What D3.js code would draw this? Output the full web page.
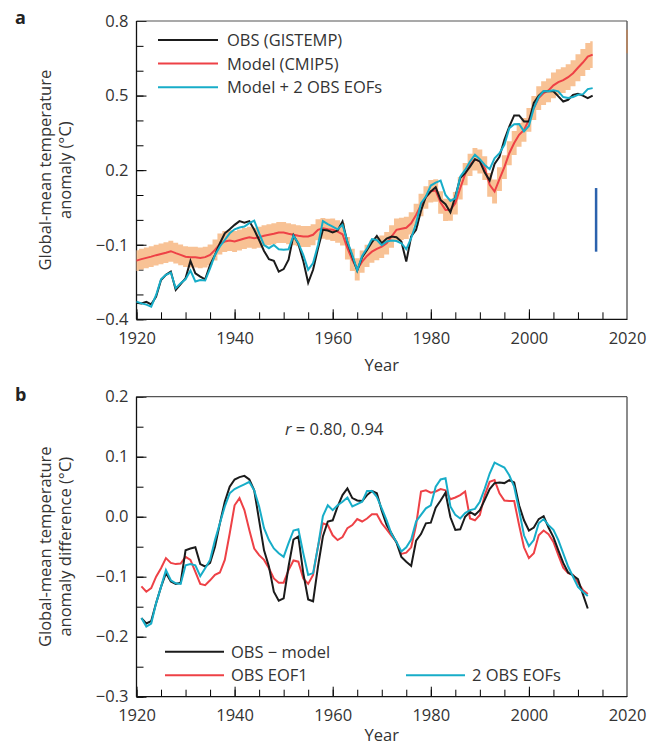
<!DOCTYPE html>
<html>
<head>
<meta charset="utf-8">
<script src="https://cdn.jsdelivr.net/npm/d3@7"></script>
<style>
  body { margin: 0; background: #fff; }
  svg text { font-family: "Open Sans", "DejaVu Sans", sans-serif; fill: #333; }
</style>
</head>
<body>
<div id="chart"></div>
<script>
// panel a : global mean temperature anomaly, 1920-2013
var startA = 1920;
var obsA = [
  -0.333, -0.336, -0.330, -0.340, -0.309, -0.242, -0.221, -0.208, -0.282, -0.258,
  -0.235, -0.165, -0.215, -0.228, -0.239, -0.181, -0.141, -0.094, -0.054, -0.038,
  -0.020, -0.005, -0.011, -0.005, -0.040, -0.081, -0.125, -0.158, -0.165, -0.208,
  -0.198, -0.160, -0.062, -0.097, -0.165, -0.253, -0.201, -0.115, -0.040, -0.043,
  -0.051, -0.043, -0.007, -0.091, -0.148, -0.204, -0.150, -0.121, -0.090, -0.065,
  -0.094, -0.075, -0.067, -0.070, -0.087, -0.168, -0.067, -0.040, 0.037, 0.093,
  0.114, 0.131, 0.080, 0.063, 0.030, 0.094, 0.168, 0.188, 0.214, 0.244,
  0.235, 0.190, 0.158, 0.225, 0.254, 0.322, 0.375, 0.420, 0.420, 0.396,
  0.396, 0.470, 0.500, 0.517, 0.517, 0.517, 0.497, 0.476, 0.483, 0.503,
  0.507, 0.500, 0.490, 0.500
];
var modelA = [
  -0.164, -0.158, -0.153, -0.148, -0.142, -0.137, -0.132, -0.126, -0.134, -0.141,
  -0.148, -0.150, -0.150, -0.153, -0.150, -0.141, -0.121, -0.097, -0.087, -0.083,
  -0.087, -0.081, -0.075, -0.070, -0.074, -0.070, -0.064, -0.060, -0.056, -0.051,
  -0.051, -0.056, -0.060, -0.064, -0.067, -0.067, -0.060, -0.040, -0.034, -0.038,
  -0.040, -0.047, -0.058, -0.114, -0.161, -0.199, -0.168, -0.145, -0.128, -0.117,
  -0.108, -0.094, -0.067, -0.040, -0.036, -0.032, -0.014, 0.020, 0.060, 0.090,
  0.115, 0.118, 0.070, 0.040, 0.041, 0.067, 0.127, 0.184, 0.221, 0.244,
  0.235, 0.208, 0.141, 0.114, 0.164, 0.212, 0.268, 0.309, 0.342, 0.362,
  0.402, 0.450, 0.490, 0.510, 0.521, 0.541, 0.554, 0.562, 0.574, 0.590,
  0.612, 0.633, 0.657, 0.665
];
var spreadA = [
  0.042, 0.042, 0.042, 0.042, 0.042, 0.042, 0.042, 0.042, 0.042, 0.042,
  0.042, 0.042, 0.042, 0.042, 0.042, 0.042, 0.042, 0.042, 0.042, 0.042,
  0.042, 0.042, 0.042, 0.042, 0.042, 0.042, 0.042, 0.042, 0.042, 0.042,
  0.042, 0.042, 0.042, 0.042, 0.042, 0.042, 0.042, 0.042, 0.042, 0.042,
  0.045, 0.045, 0.045, 0.045, 0.045, 0.045, 0.045, 0.045, 0.045, 0.045,
  0.045, 0.045, 0.045, 0.045, 0.045, 0.045, 0.045, 0.045, 0.045, 0.045,
  0.045, 0.045, 0.045, 0.045, 0.045, 0.045, 0.045, 0.045, 0.045, 0.045,
  0.048, 0.048, 0.048, 0.048, 0.048, 0.048, 0.048, 0.048, 0.048, 0.048,
  0.048, 0.048, 0.048, 0.048, 0.048, 0.052, 0.052, 0.052, 0.052, 0.052,
  0.054, 0.054, 0.054, 0.054
];
var eofA = [
  -0.329, -0.336, -0.341, -0.349, -0.302, -0.239, -0.221, -0.212, -0.275, -0.255,
  -0.239, -0.204, -0.248, -0.242, -0.244, -0.195, -0.141, -0.107, -0.081, -0.054,
  -0.038, -0.031, -0.027, -0.013, -0.003, -0.054, -0.101, -0.114, -0.101, -0.118,
  -0.120, -0.118, -0.064, -0.094, -0.141, -0.201, -0.174, -0.101, -0.005, -0.017,
  -0.027, -0.038, -0.020, -0.087, -0.141, -0.204, -0.145, -0.114, -0.077, -0.081,
  -0.102, -0.087, -0.083, -0.085, -0.094, -0.118, -0.074, -0.014, 0.067, 0.094,
  0.138, 0.150, 0.158, 0.100, 0.076, 0.087, 0.174, 0.201, 0.235, 0.262,
  0.244, 0.221, 0.204, 0.248, 0.268, 0.302, 0.369, 0.385, 0.386, 0.356,
  0.378, 0.450, 0.494, 0.518, 0.517, 0.521, 0.517, 0.494, 0.490, 0.494,
  0.503, 0.505, 0.526, 0.530
];
// vertical bar at the right of panel a
var barA = { year: 2013.7, lo: -0.128, hi: 0.128 };
var edgeA = { year: 2020, lo: 0.67, hi: 0.765 };

// panel b : anomaly difference, 1921-2012
var startB = 1921;
var obsB = [
  -0.169, -0.178, -0.174, -0.144, -0.117, -0.094, -0.108, -0.112, -0.110, -0.056,
  -0.053, -0.051, -0.079, -0.083, -0.077, -0.050, -0.011, 0.025, 0.050, 0.062,
  0.066, 0.068, 0.062, 0.044, -0.006, -0.056, -0.083, -0.125, -0.140, -0.136,
  -0.083, -0.038, -0.033, -0.094, -0.138, -0.141, -0.083, -0.033, -0.008, -0.006,
  0.017, 0.036, 0.047, 0.031, 0.027, 0.026, 0.036, 0.043, 0.039, 0.010,
  -0.014, -0.028, -0.043, -0.067, -0.075, -0.082, -0.040, -0.029, -0.011, -0.010,
  0.015, 0.027, 0.040, -0.001, -0.022, -0.021, 0.000, 0.008, 0.003, 0.011,
  0.028, 0.046, 0.056, 0.057, 0.056, 0.061, 0.057, 0.019, -0.006, -0.023,
  -0.018, -0.004, 0.001, -0.018, -0.034, -0.056, -0.077, -0.093, -0.098, -0.104,
  -0.129, -0.153
];
var eof1B = [
  -0.116, -0.125, -0.119, -0.100, -0.086, -0.069, -0.077, -0.079, -0.078, -0.067,
  -0.072, -0.092, -0.112, -0.114, -0.106, -0.097, -0.093, -0.072, -0.028, 0.019,
  0.031, 0.011, -0.022, -0.053, -0.064, -0.072, -0.086, -0.103, -0.110, -0.110,
  -0.089, -0.073, -0.075, -0.103, -0.112, -0.097, -0.050, -0.011, -0.014, -0.031,
  -0.039, -0.034, -0.019, -0.014, -0.004, -0.008, -0.003, 0.004, 0.004, -0.011,
  -0.021, -0.032, -0.042, -0.062, -0.060, -0.051, -0.014, 0.042, 0.044, 0.040,
  0.042, 0.046, 0.044, 0.029, 0.032, 0.036, 0.042, -0.003, -0.006, 0.003,
  0.036, 0.058, 0.061, 0.039, 0.027, 0.026, 0.026, -0.014, -0.051, -0.069,
  -0.061, -0.031, -0.023, -0.029, -0.042, -0.064, -0.085, -0.094, -0.097, -0.110,
  -0.122, -0.129
];
var eof2B = [
  -0.169, -0.183, -0.178, -0.144, -0.117, -0.089, -0.106, -0.111, -0.112, -0.081,
  -0.079, -0.081, -0.099, -0.086, -0.072, -0.039, -0.011, 0.017, 0.039, 0.046,
  0.050, 0.054, 0.058, 0.044, 0.017, -0.019, -0.039, -0.053, -0.061, -0.067,
  -0.044, -0.023, -0.021, -0.061, -0.097, -0.094, -0.050, 0.001, 0.019, 0.011,
  0.019, 0.025, 0.032, 0.017, 0.021, 0.025, 0.043, 0.043, 0.033, 0.014,
  -0.006, -0.029, -0.042, -0.058, -0.051, -0.038, -0.008, 0.003, 0.014, 0.019,
  0.050, 0.062, 0.064, 0.017, 0.003, -0.003, 0.006, 0.011, 0.013, 0.025,
  0.047, 0.072, 0.090, 0.086, 0.082, 0.069, 0.050, 0.011, -0.031, -0.049,
  -0.039, -0.011, -0.004, -0.014, -0.022, -0.039, -0.061, -0.083, -0.100, -0.117,
  -0.125, -0.132
];

var yLabelsA = [0.8, 0.5, 0.2, -0.1, -0.4];
var yLabelsB = [0.2, 0.1, 0.0, -0.1, -0.2, -0.3];
var xLabels = [1920, 1940, 1960, 1980, 2000, 2020];

var legendA = ["OBS (GISTEMP)", "Model (CMIP5)", "Model + 2 OBS EOFs"];
var legendB = ["OBS \u2212 model", "OBS EOF1", "2 OBS EOFs"];

var BLACK = "#1b1b1b", RED = "#ee4146", CYAN = "#17adc8", BAND = "#f8c295";
var FS = 16.5;

var W = 656, H = 747;
var svg = d3.select("#chart").append("svg").attr("width", W).attr("height", H);

var x = d3.scaleLinear().domain([1920, 2020]).range([136.5, 627]);
var yA = d3.scaleLinear().domain([-0.4, 0.8]).range([319.3, 21]);
var yB = d3.scaleLinear().domain([-0.3, 0.2]).range([696.7, 396.7]);

function toPts(arr, start) {
  return arr.map(function(v, i) { return { year: start + i, v: v }; });
}

function frame(y, labels, minorStep, fmt, title2, yearDy) {
  var g = svg.append("g");
  var y0 = y.range()[0], y1 = y.range()[1];
  var d = y.domain();

  // minor ticks (inward)
  var nMinor = Math.round((d[1] - d[0]) / minorStep);
  var minor = d3.range(nMinor + 1).map(function(i) { return d[0] + i * minorStep; });
  g.append("g").attr("transform", "translate(136.5,0)")
    .call(d3.axisLeft(y).tickValues(minor).tickSize(-7).tickFormat(""))
    .call(function(s) { s.select(".domain").remove(); });
  g.append("g").attr("transform", "translate(136.5,0)")
    .call(d3.axisLeft(y).tickValues(labels).tickSize(-10).tickPadding(8).tickFormat(fmt))
    .call(function(s) {
      s.select(".domain").remove();
      s.selectAll("text").attr("font-size", FS).attr("fill", "#333");
    });

  g.append("g").attr("transform", "translate(0," + y0 + ")")
    .call(d3.axisBottom(x).tickValues(d3.range(1920, 2021, 5)).tickSize(-7).tickFormat(""))
    .call(function(s) { s.select(".domain").remove(); });
  g.append("g").attr("transform", "translate(0," + y0 + ")")
    .call(d3.axisBottom(x).tickValues(xLabels).tickSize(-10).tickPadding(13).tickFormat(d3.format("d")))
    .call(function(s) {
      s.select(".domain").remove();
      s.selectAll("text").attr("font-size", FS).attr("fill", "#333");
    });

  // box
  g.append("line").attr("x1", x(2020)).attr("x2", x(2020)).attr("y1", y1).attr("y2", y0)
    .attr("stroke", "#8c8c8c").attr("stroke-width", 2);
  g.append("line").attr("x1", x(1920)).attr("x2", x(2020)).attr("y1", y1).attr("y2", y1)
    .attr("stroke", "#555").attr("stroke-width", 1.2);
  g.append("line").attr("x1", x(1920)).attr("x2", x(1920)).attr("y1", y1).attr("y2", y0)
    .attr("stroke", "#111").attr("stroke-width", 1.3);
  g.append("line").attr("x1", x(1920)).attr("x2", x(2020)).attr("y1", y0).attr("y2", y0)
    .attr("stroke", "#111").attr("stroke-width", 1.3);

  g.append("text").attr("x", x(1970)).attr("y", y0 + yearDy).attr("text-anchor", "middle")
    .attr("font-size", FS).text("Year");

  var cy = (y0 + y1) / 2;
  var t = g.append("text").attr("transform", "translate(0," + cy + ") rotate(-90)")
    .attr("text-anchor", "middle").attr("font-size", FS);
  t.append("tspan").attr("x", 0).attr("y", 51).text("Global-mean temperature");
  t.append("tspan").attr("x", 0).attr("y", 71).text(title2);
}

var fmt1 = d3.format(".1f");
frame(yA, yLabelsA, 0.1, fmt1, "anomaly (\u00B0C)", 52);
frame(yB, yLabelsB, 0.05, fmt1, "anomaly difference (\u00B0C)", 44);

svg.append("text").attr("x", 15).attr("y", 24).attr("font-size", 18).attr("font-weight", "bold")
  .style("fill", "#222").text("a");
svg.append("text").attr("x", 15).attr("y", 401).attr("font-size", 18).attr("font-weight", "bold")
  .style("fill", "#222").text("b");

// ---- panel a data
var gA = svg.append("g");
var band = d3.area()
  .x(function(d) { return x(d.year); })
  .y0(function(d) { return yA(d.v - d.s); })
  .y1(function(d) { return yA(d.v + d.s); })
  .curve(d3.curveStep);
var bandPts = modelA.map(function(v, i) { return { year: startA + i, v: v, s: spreadA[i] }; });
gA.append("path").attr("d", band(bandPts)).attr("fill", BAND);

var lineA = d3.line().x(function(d) { return x(d.year); }).y(function(d) { return yA(d.v); });
gA.append("path").attr("d", lineA(toPts(modelA, startA))).attr("fill", "none")
  .attr("stroke", RED).attr("stroke-width", 2);
gA.append("path").attr("d", lineA(toPts(obsA, startA))).attr("fill", "none")
  .attr("stroke", BLACK).attr("stroke-width", 2);
gA.append("path").attr("d", lineA(toPts(eofA, startA))).attr("fill", "none")
  .attr("stroke", CYAN).attr("stroke-width", 2);

gA.append("line").attr("x1", x(barA.year)).attr("x2", x(barA.year))
  .attr("y1", yA(barA.hi)).attr("y2", yA(barA.lo))
  .attr("stroke", "#2b62ad").attr("stroke-width", 2.5);
gA.append("line").attr("x1", x(edgeA.year)).attr("x2", x(edgeA.year))
  .attr("y1", yA(edgeA.hi)).attr("y2", yA(edgeA.lo))
  .attr("stroke", "#b08566").attr("stroke-width", 2);

// legend a
var colA = [BLACK, RED, CYAN];
legendA.forEach(function(txt, i) {
  var yy = 40 + i * 23.6;
  svg.append("line").attr("x1", 158).attr("x2", 218).attr("y1", yy).attr("y2", yy)
    .attr("stroke", colA[i]).attr("stroke-width", 2);
  svg.append("text").attr("x", 227).attr("y", yy + 6).attr("font-size", FS).text(txt);
});

// ---- panel b data
var gB = svg.append("g");
var lineB = d3.line().x(function(d) { return x(d.year); }).y(function(d) { return yB(d.v); });
gB.append("path").attr("d", lineB(toPts(eof1B, startB))).attr("fill", "none")
  .attr("stroke", RED).attr("stroke-width", 2);
gB.append("path").attr("d", lineB(toPts(obsB, startB))).attr("fill", "none")
  .attr("stroke", BLACK).attr("stroke-width", 2);
gB.append("path").attr("d", lineB(toPts(eof2B, startB))).attr("fill", "none")
  .attr("stroke", CYAN).attr("stroke-width", 2);

var rt = svg.append("text").attr("x", 285).attr("y", 435).attr("font-size", FS);
rt.append("tspan").attr("font-style", "italic").text("r");
rt.append("tspan").text(" = 0.80, 0.94");

// legend b
var legPos = [[165, 651.7], [165, 675.3], [406, 675.3]];
var colB = [BLACK, RED, CYAN];
legendB.forEach(function(txt, i) {
  var p = legPos[i];
  svg.append("line").attr("x1", p[0]).attr("x2", p[0] + 59).attr("y1", p[1]).attr("y2", p[1])
    .attr("stroke", colB[i]).attr("stroke-width", 2);
  svg.append("text").attr("x", p[0] + 66).attr("y", p[1] + 6).attr("font-size", FS).text(txt);
});
</script>
</body>
</html>
